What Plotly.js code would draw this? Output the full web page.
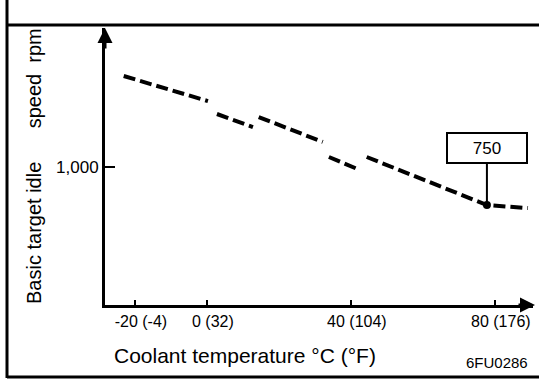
<!DOCTYPE html>
<html>
<head>
<meta charset="utf-8">
<script src="https://cdn.plot.ly/plotly-3.0.1.min.js"></script>
<style>html,body{margin:0;padding:0;background:#fff;}#chart{width:539px;height:380px;}</style>
</head>
<body>
<div id="chart"></div>
<script>
// Data (coolant temperature in °C, idle speed in rpm); null separates dash runs
var tempC = [-23.1, 0.3, null, 2.8, 12.8, null, 14.4, 32.2, null, 33.9, 42.5, null, 44.4, 75.8, 77.8, 89.2];
var idleRpm = [1599, 1434, null, 1349, 1263, null, 1329, 1165, null, 1066, 980, null, 1066, 763, 750, 730];
var xTickVals = [-20, 0, 40, 80];
var xTickText = ["-20 (-4)", "0 (32)", "40 (104)", "80 (176)"];
var yTickVals = [1000];
var yTickText = ["1,000"];
var markTemp = 77.8;
var markRpm = 750;
var xTitle = "Coolant temperature °C (°F)";
var yTitleParts = ["Basic target idle", "speed", "rpm"];
var figCode = "6FU0286";

var W = 539, H = 380;
var L = 105, R = 533, T = 28, B = 305;
function px(x) { return (x - L) / (R - L); }
function py(y) { return (B - y) / (B - T); }
var nb = "\u00a0";
var yTitle = yTitleParts[0] + nb.repeat(6) + yTitleParts[1] + nb.repeat(2) + yTitleParts[2];
var FONT = "Liberation Sans, Arial, sans-serif";

var trace = {
  x: tempC, y: idleRpm, type: "scatter", mode: "lines", connectgaps: false,
  line: {color: "#000", width: 4, dash: "12px,5px"}, hoverinfo: "skip"
};

var line = function(x0, y0, x1, y1, w) {
  return {type: "line", xref: "paper", yref: "paper", x0: px(x0), y0: py(y0), x1: px(x1), y1: py(y1),
    line: {color: "#000", width: w}};
};

var layout = {
  width: W, height: H,
  margin: {l: L, r: W - R, t: T, b: H - B},
  paper_bgcolor: "#fff", plot_bgcolor: "#fff",
  showlegend: false,
  font: {family: FONT, color: "#000"},
  xaxis: {
    range: [-28.3, 90.6], showgrid: false, zeroline: false,
    showline: true, linecolor: "#000", linewidth: 3,
    ticks: "inside", ticklen: 5, tickwidth: 2, tickcolor: "#000",
    tickvals: xTickVals, ticktext: xTickText, ticklabelshift: 6,
    tickfont: {size: 16, family: FONT}
  },
  yaxis: {
    range: [92, 1915], showgrid: false, zeroline: false,
    showline: true, linecolor: "#000", linewidth: 3,
    ticks: "inside", ticklen: 10, tickwidth: 2, tickcolor: "#000",
    tickvals: yTickVals, ticktext: yTickText,
    tickfont: {size: 17, family: FONT}
  },
  shapes: [
    line(7, 0, 7, 378, 3),
    line(7, 25, 539, 25, 3),
    line(7, 377, 539, 377, 3)
  ],
  annotations: [
    {xref: "paper", yref: "paper", x: px(535), y: py(B), ax: -18, ay: 0, text: "", showarrow: true,
      arrowhead: 2, arrowsize: 1, arrowwidth: 3, arrowcolor: "#000", standoff: 0},
    {xref: "paper", yref: "paper", x: px(L), y: py(28), ax: 0, ay: 22, text: "", showarrow: true,
      arrowhead: 2, arrowsize: 1, arrowwidth: 3, arrowcolor: "#000", standoff: 0},
    {xref: "x", yref: "y", x: markTemp, y: markRpm, ax: 0, ay: -57, text: String(markRpm),
      showarrow: true, arrowhead: 6, arrowsize: 1, arrowwidth: 2, arrowcolor: "#000", standoff: 0,
      bordercolor: "#000", borderwidth: 2, bgcolor: "#fff", width: 76, height: 26,
      font: {size: 17, family: FONT}},
    {xref: "paper", yref: "paper", x: px(112), y: py(355), xanchor: "left", yanchor: "middle",
      text: xTitle, showarrow: false, font: {size: 21, family: FONT}},
    {xref: "paper", yref: "paper", x: px(34), y: py(166), xanchor: "center", yanchor: "middle",
      text: yTitle, textangle: -90, showarrow: false, font: {size: 20, family: FONT}},
    {xref: "paper", yref: "paper", x: px(497), y: py(362), xanchor: "center", yanchor: "middle",
      text: figCode, showarrow: false, font: {size: 15, family: FONT}}
  ]
};

Plotly.newPlot("chart", [trace], layout, {staticPlot: true, displayModeBar: false});
</script>
</body>
</html>
